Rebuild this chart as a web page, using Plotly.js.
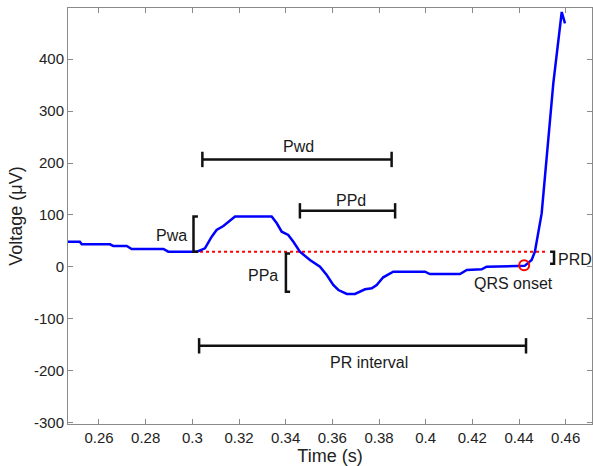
<!DOCTYPE html>
<html>
<head>
<meta charset="utf-8">
<script src="https://cdn.plot.ly/plotly-3.0.1.min.js"></script>
<style>html,body{margin:0;padding:0;background:#fff;}#chart{width:593px;height:466px;}</style>
</head>
<body>
<div id="chart"></div>
<script>
// ECG signal (time in s, voltage in µV)
const timeS = [0.2455, 0.2518, 0.2526, 0.2647, 0.2661, 0.2719, 0.2740, 0.2876, 0.2897, 0.3020,
  0.3054, 0.3083, 0.3104, 0.3133, 0.3183, 0.3340, 0.3362, 0.3383, 0.3411, 0.3433,
  0.3461, 0.3504, 0.3547, 0.3576, 0.3604, 0.3626, 0.3662, 0.3697, 0.3740, 0.3769,
  0.3790, 0.3818, 0.3861, 0.3997, 0.4018, 0.4147, 0.4176, 0.4240, 0.4261, 0.4404,
  0.4424, 0.4454, 0.4468, 0.4497, 0.4547, 0.4583, 0.4597];
const voltageUV = [48.5, 48.5, 43.5, 43.5, 40.3, 40.3, 34.5, 34.5, 29.3, 29.3,
  35.8, 58.2, 71.1, 78.8, 97, 97, 84, 67.8, 61.5, 48.5,
  29.3, 13.3, 0.4, -15.6, -34.9, -44.5, -52.2, -52.2, -43.2, -41.2,
  -34.9, -20, -9.2, -9.2, -13.7, -13.7, -6, -4.6, 0.4, 2,
  2, 13.3, 29.3, 103, 354, 491, 469];

// Baseline (red dotted) and QRS onset marker
const baselineX = [0.3033, 0.4519];
const baselineY = [29, 29];
const qrsX = [0.4422];
const qrsY = [3];

// Interval bars
const pwdX = [0.3043, 0.3854];  const pwdY = [207, 207];
const ppdX = [0.3461, 0.3869];  const ppdY = [108, 108];
const prX  = [0.3029, 0.4430];  const prY  = [-152, -152];

// Amplitude brackets
const pwaX = [0.3024, 0.3005, 0.3005, 0.3024]; const pwaY = [97, 97, 29, 29];
const ppaX = [0.3419, 0.3401, 0.3401, 0.3419]; const ppaY = [26, 26, -48, -48];
const prdX = [0.4533, 0.4550, 0.4550, 0.4533]; const prdY = [29, 29, 6, 6];

// Labels
const labelText = ['Pwd', 'PPd', 'PR interval', 'Pwa', 'PPa', 'PRD', 'QRS onset'];
const labelX = [0.3457, 0.3678, 0.3758, 0.2912, 0.3304, 0.4639, 0.4378];
const labelY = [231, 127, -184, 61, -17, 15, -32];

// Axis ticks
const xTickVals = [0.26, 0.28, 0.30, 0.32, 0.34, 0.36, 0.38, 0.40, 0.42, 0.44, 0.46];
const xTickText = ['0.26', '0.28', '0.3', '0.32', '0.34', '0.36', '0.38', '0.4', '0.42', '0.44', '0.46'];
const yTickVals = [-300, -200, -100, 0, 100, 200, 300, 400];
const yTickText = ['-300', '-200', '-100', '0', '100', '200', '300', '400'];

const FONT = 'Liberation Sans, Arial, sans-serif';
const barStyle = {color: '#111', width: 2.5};

function bar(x, y) {
  return {x: x, y: y, type: 'scatter', mode: 'lines+markers', hoverinfo: 'skip',
    line: barStyle, marker: {symbol: 'line-ns-open', size: 11, color: '#111', line: {color: '#111', width: 2.5}}};
}
function bracket(x, y) {
  return {x: x, y: y, type: 'scatter', mode: 'lines', hoverinfo: 'skip', line: barStyle};
}

const traces = [
  {x: baselineX, y: baselineY, type: 'scatter', mode: 'lines', line: {color: '#ff0000', width: 2, dash: 'dot'}},
  {x: timeS, y: voltageUV, type: 'scatter', mode: 'lines', line: {color: '#0000ff', width: 2.5}},
  {x: qrsX, y: qrsY, type: 'scatter', mode: 'markers', marker: {symbol: 'circle-open', size: 10, color: '#ff0000', line: {color: '#ff0000', width: 2}}},
  bar(pwdX, pwdY), bar(ppdX, ppdY), bar(prX, prY),
  bracket(pwaX, pwaY), bracket(ppaX, ppaY), bracket(prdX, prdY)
];

const annotations = labelText.map((t, i) => ({
  x: labelX[i], y: labelY[i], xref: 'x', yref: 'y', text: t, showarrow: false,
  xanchor: 'center', yanchor: 'middle', font: {family: FONT, size: 16, color: '#1a1a1a'}
}));

const axisCommon = {
  showline: true, linecolor: '#8a8a8a', linewidth: 1, mirror: 'ticks',
  ticks: 'inside', ticklen: 5, tickcolor: '#8a8a8a', tickwidth: 1,
  showgrid: false, zeroline: false,
  tickfont: {family: FONT, size: 15, color: '#222'}
};

const layout = {
  width: 593, height: 466,
  margin: {l: 68, r: 1, t: 8, b: 42},
  paper_bgcolor: '#fff', plot_bgcolor: '#fff',
  showlegend: false,
  font: {family: FONT},
  xaxis: Object.assign({}, axisCommon, {
    range: [0.24672, 0.47127], tickvals: xTickVals, ticktext: xTickText,
    title: {text: 'Time (s)', font: {family: FONT, size: 18, color: '#222'}, standoff: 2}
  }),
  yaxis: Object.assign({}, axisCommon, {
    range: [-302.6, 498.7], tickvals: yTickVals, ticktext: yTickText,
    title: {text: 'Voltage (\u03bcV)', font: {family: FONT, size: 18, color: '#222'}, standoff: 6}
  }),
  annotations: annotations
};

Plotly.newPlot('chart', traces, layout, {displayModeBar: false, staticPlot: true});
</script>
</body>
</html>
